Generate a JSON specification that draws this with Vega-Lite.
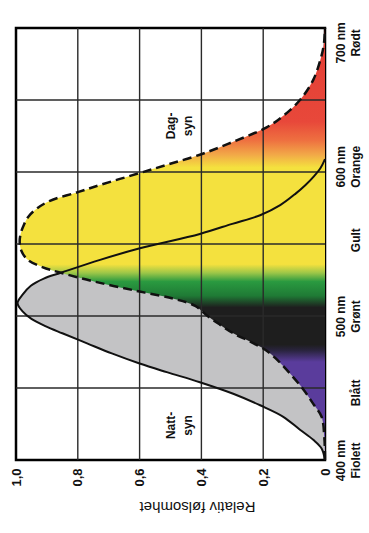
{
  "$schema": "https://vega.github.io/schema/vega-lite/v6.json",
  "width": 309,
  "height": 432,
  "autosize": {"type": "none"},
  "padding": {"left": 16, "top": 28, "right": 44, "bottom": 73},
  "background": "white",
  "view": {"stroke": "black", "strokeWidth": 2.5},
  "config": {"font": "Liberation Sans"},
  "datasets": {
    "scot": [
      {"nm": 400, "v": 0}, {"nm": 408, "v": 0.011}, {"nm": 414, "v": 0.038}, {"nm": 421, "v": 0.081},
      {"nm": 430, "v": 0.135}, {"nm": 438, "v": 0.21}, {"nm": 446, "v": 0.297}, {"nm": 454, "v": 0.405},
      {"nm": 461, "v": 0.512}, {"nm": 467, "v": 0.6}, {"nm": 474, "v": 0.69}, {"nm": 481, "v": 0.77},
      {"nm": 488, "v": 0.85}, {"nm": 493, "v": 0.905}, {"nm": 498, "v": 0.95}, {"nm": 503, "v": 0.978},
      {"nm": 509, "v": 0.995}, {"nm": 515, "v": 0.978}, {"nm": 521, "v": 0.952}, {"nm": 526, "v": 0.91},
      {"nm": 530, "v": 0.855}, {"nm": 539, "v": 0.728}, {"nm": 547, "v": 0.599}, {"nm": 557, "v": 0.405},
      {"nm": 564, "v": 0.3}, {"nm": 570, "v": 0.21}, {"nm": 577, "v": 0.145}, {"nm": 585, "v": 0.095},
      {"nm": 591, "v": 0.063}, {"nm": 597, "v": 0.036}, {"nm": 603, "v": 0.014}, {"nm": 609, "v": 0}
    ],
    "phot": [
      {"nm": 400, "v": 0}, {"nm": 415, "v": 0.002}, {"nm": 430, "v": 0.011}, {"nm": 439, "v": 0.038},
      {"nm": 449, "v": 0.07}, {"nm": 460, "v": 0.113}, {"nm": 469, "v": 0.152}, {"nm": 476, "v": 0.19},
      {"nm": 482, "v": 0.24}, {"nm": 488, "v": 0.297}, {"nm": 494, "v": 0.34}, {"nm": 500, "v": 0.38},
      {"nm": 507, "v": 0.42}, {"nm": 512, "v": 0.49}, {"nm": 517, "v": 0.6}, {"nm": 523, "v": 0.728},
      {"nm": 530, "v": 0.855}, {"nm": 534, "v": 0.915}, {"nm": 539, "v": 0.962}, {"nm": 545, "v": 0.982},
      {"nm": 551, "v": 0.988}, {"nm": 557, "v": 0.985}, {"nm": 563, "v": 0.975}, {"nm": 569, "v": 0.96},
      {"nm": 575, "v": 0.93}, {"nm": 580, "v": 0.89}, {"nm": 586, "v": 0.8}, {"nm": 591, "v": 0.728},
      {"nm": 599, "v": 0.604}, {"nm": 605, "v": 0.512}, {"nm": 612, "v": 0.405}, {"nm": 621, "v": 0.297},
      {"nm": 631, "v": 0.189}, {"nm": 639, "v": 0.135}, {"nm": 650, "v": 0.081}, {"nm": 664, "v": 0.038},
      {"nm": 681, "v": 0.011}, {"nm": 690, "v": 0.003}, {"nm": 700, "v": 0}
    ],
    "hgrid": [{"nm": 450}, {"nm": 500}, {"nm": 550}, {"nm": 600}, {"nm": 650}],
    "vgrid": [{"v": 0.2}, {"v": 0.4}, {"v": 0.6}, {"v": 0.8}],
    "notes": [
      {"nm": 632, "v": 0.5, "text": "Dag-\nsyn"},
      {"nm": 424, "v": 0.5, "text": "Natt-\nsyn"}
    ]
  },
  "encoding": {
    "x": {
      "field": "v", "type": "quantitative",
      "scale": {"domain": [0, 1], "reverse": true, "nice": false},
      "axis": {
        "orient": "bottom",
        "values": [0, 0.2, 0.4, 0.6, 0.8, 1],
        "labelExpr": "datum.value == 0 ? '0' : replace(format(datum.value, '.1f'), '.', ',')",
        "grid": false, "ticks": false, "domain": false,
        "labelAngle": 270, "labelAlign": "right", "labelBaseline": "middle",
        "labelPadding": 8, "labelFontSize": 13, "labelFontWeight": "bold", "labelColor": "#111",
        "labelOverlap": false, "labelFlush": false, "labelBound": false,
        "title": "Relativ følsomhet", "titleAngle": 180, "titleX": 181, "titleY": 46,
        "titleAlign": "center", "titleBaseline": "middle", "titleFontSize": 15,
        "titleFontWeight": "normal", "titleColor": "#111"
      }
    },
    "y": {
      "field": "nm", "type": "quantitative",
      "scale": {"domain": [400, 700], "nice": false, "zero": false},
      "axis": {
        "orient": "right",
        "values": [400, 447, 500, 553, 604, 690],
        "labelExpr": "datum.value == 400 ? ['400 nm', 'Fiolett'] : datum.value == 447 ? [' ', 'Blått'] : datum.value == 500 ? ['500 nm', 'Grønt'] : datum.value == 553 ? [' ', 'Gult'] : datum.value == 604 ? ['600 nm', 'Orange'] : ['700 nm', 'Rødt']",
        "grid": false, "ticks": false, "domain": false,
        "labelAngle": 270, "labelAlign": "center", "labelBaseline": "top",
        "labelPadding": 10, "labelLineHeight": 15, "labelFontSize": 12, "labelFontWeight": "bold", "labelColor": "#111",
        "labelOverlap": false, "labelFlush": false, "labelBound": false,
        "title": null
      }
    }
  },
  "layer": [
    {
      "data": {"name": "scot"},
      "mark": {"type": "area", "orient": "horizontal", "interpolate": "catmull-rom", "color": "#c3c3c5"}
    },
    {
      "data": {"name": "phot"},
      "mark": {
        "type": "area", "orient": "horizontal", "interpolate": "catmull-rom",
        "color": {
          "gradient": "linear", "x1": 0, "x2": 0, "y1": 1, "y2": 0,
          "stops": [
            {"offset": 0, "color": "#5a3c9c"},
            {"offset": 0.227, "color": "#5a3c9c"},
            {"offset": 0.253, "color": "#2a2440"},
            {"offset": 0.267, "color": "#1e1e1e"},
            {"offset": 0.353, "color": "#1e1e1e"},
            {"offset": 0.38, "color": "#1f7a35"},
            {"offset": 0.413, "color": "#2a9a40"},
            {"offset": 0.433, "color": "#9cc648"},
            {"offset": 0.453, "color": "#f4e13e"},
            {"offset": 0.677, "color": "#f4e13e"},
            {"offset": 0.707, "color": "#f2a848"},
            {"offset": 0.74, "color": "#ee7040"},
            {"offset": 0.783, "color": "#e8483a"},
            {"offset": 1, "color": "#e23c34"}
          ]
        }
      }
    },
    {
      "data": {"name": "hgrid"},
      "mark": {"type": "rule", "color": "#2a2a2a", "strokeWidth": 1.4},
      "encoding": {"x": null}
    },
    {
      "data": {"name": "vgrid"},
      "mark": {"type": "rule", "color": "#2a2a2a", "strokeWidth": 1.4},
      "encoding": {"y": null}
    },
    {
      "data": {"name": "scot"},
      "mark": {"type": "line", "interpolate": "catmull-rom", "color": "#111", "strokeWidth": 2},
      "encoding": {"order": {"field": "nm", "type": "quantitative"}}
    },
    {
      "data": {"name": "phot"},
      "mark": {"type": "line", "interpolate": "catmull-rom", "color": "#111", "strokeWidth": 2.5, "strokeDash": [9, 5]},
      "encoding": {"order": {"field": "nm", "type": "quantitative"}}
    },
    {
      "data": {"name": "notes"},
      "mark": {"type": "text", "angle": 270, "lineBreak": "\n", "align": "center", "baseline": "middle", "fontSize": 12, "fontWeight": "bold", "lineHeight": 17, "color": "#111"},
      "encoding": {"text": {"field": "text", "type": "nominal"}}
    }
  ]
}
